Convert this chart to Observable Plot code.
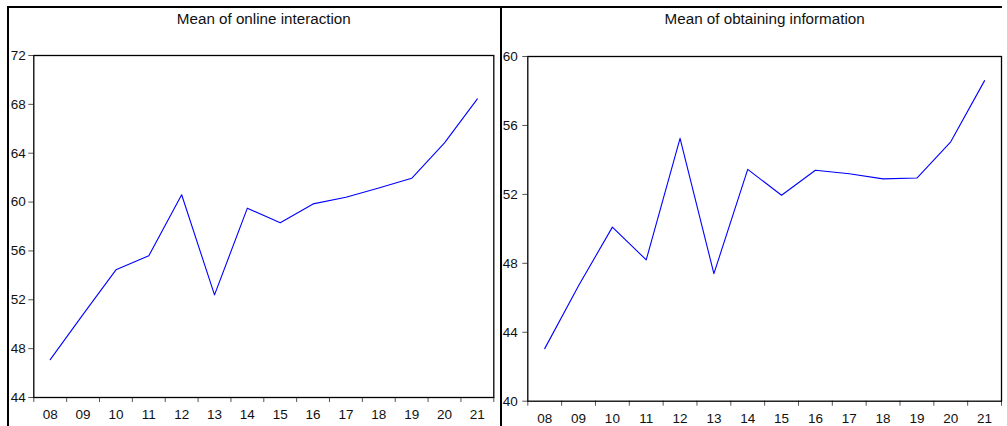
<!DOCTYPE html>
<html>
<head>
<meta charset="utf-8">
<script src="https://cdn.jsdelivr.net/npm/d3@7"></script>
<script src="https://cdn.jsdelivr.net/npm/@observablehq/plot@0.6"></script>
<style>
  html, body { margin: 0; padding: 0; background: #fff; width: 1007px; height: 426px; overflow: hidden; }
  #frame { position: absolute; left: 7px; top: 6px; width: 995px; height: 440px; border: 2px solid #000; box-sizing: border-box; }
  #divider { position: absolute; left: 500px; top: 6px; width: 2px; height: 440px; background: #000; }
  #p1 { position: absolute; left: 9px; top: 8px; }
  #p2 { position: absolute; left: 502px; top: 8px; }
  svg { font-family: "Liberation Sans", Arial, sans-serif; }
</style>
</head>
<body>
<div id="frame"></div>
<div id="divider"></div>
<div id="p1"></div>
<div id="p2"></div>
<script>
const years = ["08","09","10","11","12","13","14","15","16","17","18","19","20","21"];
const onlineInteraction = [47.1, 50.8, 54.45, 55.6, 60.6, 52.4, 59.5, 58.3, 59.85, 60.4, 61.15, 61.95, 64.85, 68.45];
const obtainingInformation = [43.05, 46.7, 50.1, 48.2, 55.25, 47.4, 53.45, 51.95, 53.4, 53.2, 52.9, 52.95, 55.05, 58.6];
const titles = ["Mean of online interaction", "Mean of obtaining information"];
const yTicksLeft = [44, 48, 52, 56, 60, 64, 68, 72];
const yTicksRight = [40, 44, 48, 52, 56, 60];

function panel({values, title, yDomain, yTicks, width, height, margins, yPad, titleDy}) {
  const data = years.map((y, i) => ({year: y, x: +y, value: values[i]}));
  const xs = data.map(d => d.x);
  const boundaries = d3.range(xs[0] - 0.5, xs[xs.length - 1] + 1, 1);
  return Plot.plot({
    width, height,
    marginLeft: margins[0], marginRight: margins[1], marginTop: margins[2], marginBottom: margins[3],
    style: {fontSize: "13.5px", color: "#111", background: "white"},
    x: {domain: [xs[0] - 0.5, xs[xs.length - 1] + 0.5], axis: null},
    y: {domain: yDomain, axis: null},
    marks: [
      Plot.axisY({ticks: yTicks, tickSize: 5, tickPadding: yPad, stroke: "#555", fontSize: 13.5, label: null, tickFormat: d => String(d)}),
      Plot.axisX({ticks: boundaries, tickSize: 5, tickFormat: () => "", label: null, stroke: "#555"}),
      Plot.axisX({ticks: xs, tickSize: 0, tickPadding: 12, fontSize: 13.5, label: null, tickFormat: d => years[xs.indexOf(d)]}),
      Plot.frame({stroke: "#000", strokeWidth: 1.3}),
      Plot.line(data, {x: "x", y: "value", stroke: "#0000ff", strokeWidth: 1.1}),
      Plot.text([title], {frameAnchor: "top", dy: titleDy, lineAnchor: "middle", fontSize: 15.2, fill: "#111"})
    ]
  });
}

document.getElementById("p1").append(panel({
  values: onlineInteraction, title: titles[0], yDomain: [44, 72], yTicks: yTicksLeft,
  width: 491, height: 418, margins: [24.3, 6.7, 47, 29], yPad: 3, titleDy: -36
}));
document.getElementById("p2").append(panel({
  values: obtainingInformation, title: titles[1], yDomain: [40, 60], yTicks: yTicksRight,
  width: 502, height: 418, margins: [25.3, 3, 48, 25.3], yPad: 5, titleDy: -37
}));
</script>
</body>
</html>
